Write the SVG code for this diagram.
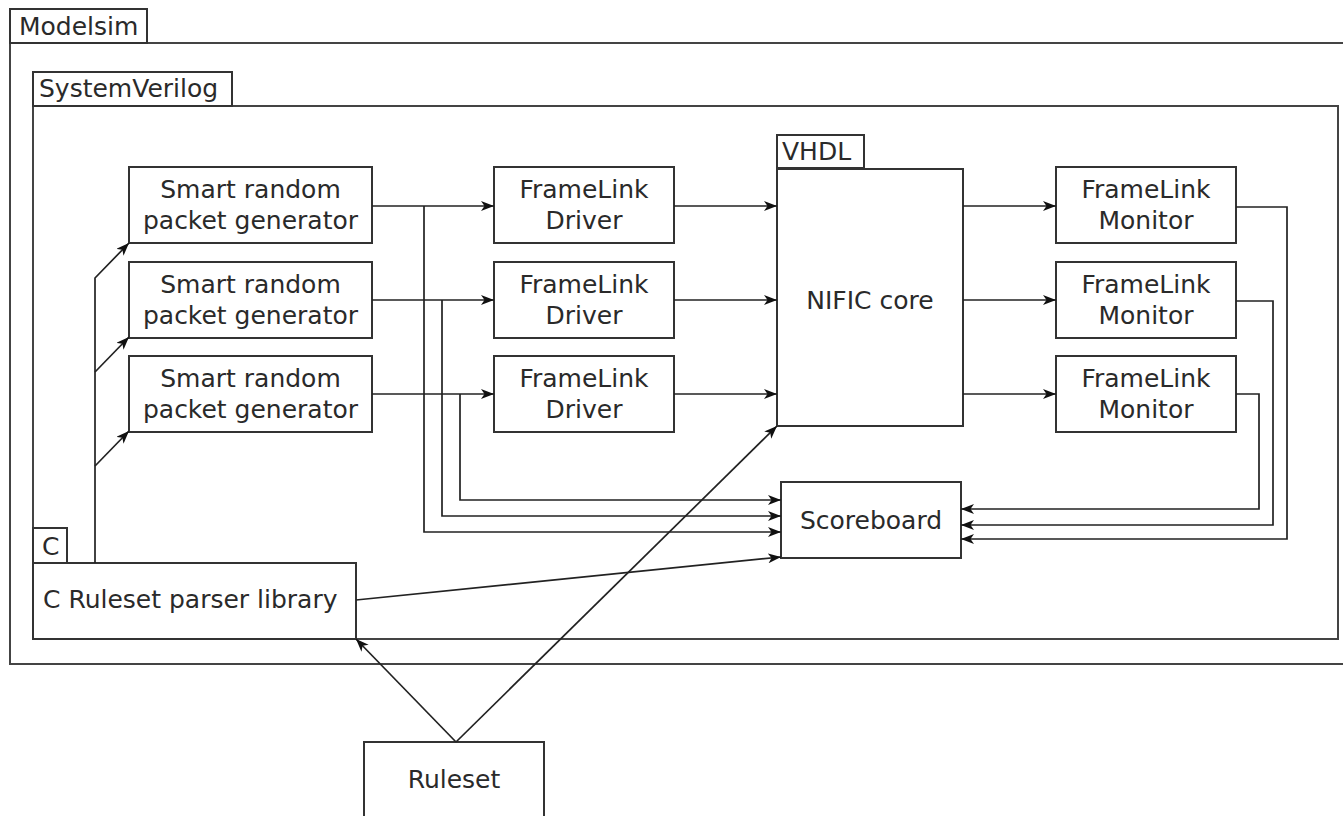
<svg xmlns="http://www.w3.org/2000/svg" width="1343" height="816" viewBox="0 0 1343 816">
<style>
.frame{fill:none;stroke:#444;stroke-width:2}
.box{fill:#fff;stroke:#333;stroke-width:2}
.lbl{fill:#fff;stroke:#333;stroke-width:2}
.t{font-family:"DejaVu Sans",sans-serif;font-size:25px;fill:#2a2a2a}
.c{text-anchor:middle}
.w{fill:none;stroke:#222;stroke-width:1.7}
.a{marker-end:url(#ah)}
</style>
<defs>
<marker id="ah" markerUnits="userSpaceOnUse" markerWidth="16" markerHeight="12" refX="13" refY="5" orient="auto">
<path d="M0,0 L13,5 L0,10 L3.5,5 z" fill="#111"/>
</marker>
</defs>
<rect width="1343" height="816" fill="#fff"/>
<g id="modelsim">
<rect class="frame" x="10" y="43" width="1345" height="621"/>
<rect class="lbl" x="10" y="9" width="137" height="34"/>
<text class="t" x="19" y="35">Modelsim</text>
</g>
<g id="systemverilog">
<rect class="frame" x="33" y="106" width="1305" height="533"/>
<rect class="lbl" x="33" y="72" width="199" height="34"/>
<text class="t" x="39" y="97">SystemVerilog</text>
</g>
<g id="gen1"><rect class="box" x="129" y="167" width="243" height="76"/><text class="t c" x="250.5" y="198">Smart random</text><text class="t c" x="250.5" y="229">packet generator</text></g>
<g id="gen2"><rect class="box" x="129" y="262" width="243" height="76"/><text class="t c" x="250.5" y="293">Smart random</text><text class="t c" x="250.5" y="324">packet generator</text></g>
<g id="gen3"><rect class="box" x="129" y="356" width="243" height="76"/><text class="t c" x="250.5" y="387">Smart random</text><text class="t c" x="250.5" y="418">packet generator</text></g>
<g id="drv1"><rect class="box" x="494" y="167" width="180" height="76"/><text class="t c" x="584" y="198">FrameLink</text><text class="t c" x="584" y="229">Driver</text></g>
<g id="drv2"><rect class="box" x="494" y="262" width="180" height="76"/><text class="t c" x="584" y="293">FrameLink</text><text class="t c" x="584" y="324">Driver</text></g>
<g id="drv3"><rect class="box" x="494" y="356" width="180" height="76"/><text class="t c" x="584" y="387">FrameLink</text><text class="t c" x="584" y="418">Driver</text></g>
<g id="vhdl">
<rect class="box" x="777" y="169" width="186" height="257"/>
<rect class="lbl" x="777" y="135" width="87" height="33"/>
<text class="t" x="782" y="160">VHDL</text>
<text class="t c" x="870" y="309">NIFIC core</text>
</g>
<g id="mon1"><rect class="box" x="1056" y="167" width="180" height="76"/><text class="t c" x="1146" y="198">FrameLink</text><text class="t c" x="1146" y="229">Monitor</text></g>
<g id="mon2"><rect class="box" x="1056" y="262" width="180" height="76"/><text class="t c" x="1146" y="293">FrameLink</text><text class="t c" x="1146" y="324">Monitor</text></g>
<g id="mon3"><rect class="box" x="1056" y="356" width="180" height="76"/><text class="t c" x="1146" y="387">FrameLink</text><text class="t c" x="1146" y="418">Monitor</text></g>
<g id="scoreboard"><rect class="box" x="781" y="482" width="180" height="76"/><text class="t c" x="871" y="529">Scoreboard</text></g>
<g id="c">
<rect class="box" x="33" y="563" width="323" height="76"/>
<rect class="lbl" x="33" y="528" width="34" height="35"/>
<text class="t" x="42" y="555">C</text>
<text class="t" x="43" y="608">C Ruleset parser library</text>
</g>
<g id="ruleset"><rect class="box" x="364" y="742" width="180" height="80"/><text class="t c" x="454" y="788">Ruleset</text></g>
<g id="connectors">
<path class="w a" d="M372,206 H494"/>
<path class="w a" d="M372,300 H494"/>
<path class="w a" d="M372,394 H494"/>
<path class="w a" d="M424,206 V532 H781"/>
<path class="w a" d="M442,300 V516 H781"/>
<path class="w a" d="M460,394 V500 H781"/>
<path class="w a" d="M674,206 H777"/>
<path class="w a" d="M674,300 H777"/>
<path class="w a" d="M674,394 H777"/>
<path class="w a" d="M963,206 H1056"/>
<path class="w a" d="M963,300 H1056"/>
<path class="w a" d="M963,394 H1056"/>
<path class="w a" d="M1236,207 H1287 V539 H961"/>
<path class="w a" d="M1236,301 H1273 V525 H961"/>
<path class="w a" d="M1236,394 H1259 V509 H961"/>
<path class="w a" d="M95,563 V278 L129,243"/>
<path class="w a" d="M95,466 L129,431"/>
<path class="w a" d="M95,372 L129,337"/>
<path class="w a" d="M356,600 L781,557"/>
<path class="w a" d="M456,742 L356,639"/>
<path class="w a" d="M456,742 L777,426"/>
</g>
</svg>
